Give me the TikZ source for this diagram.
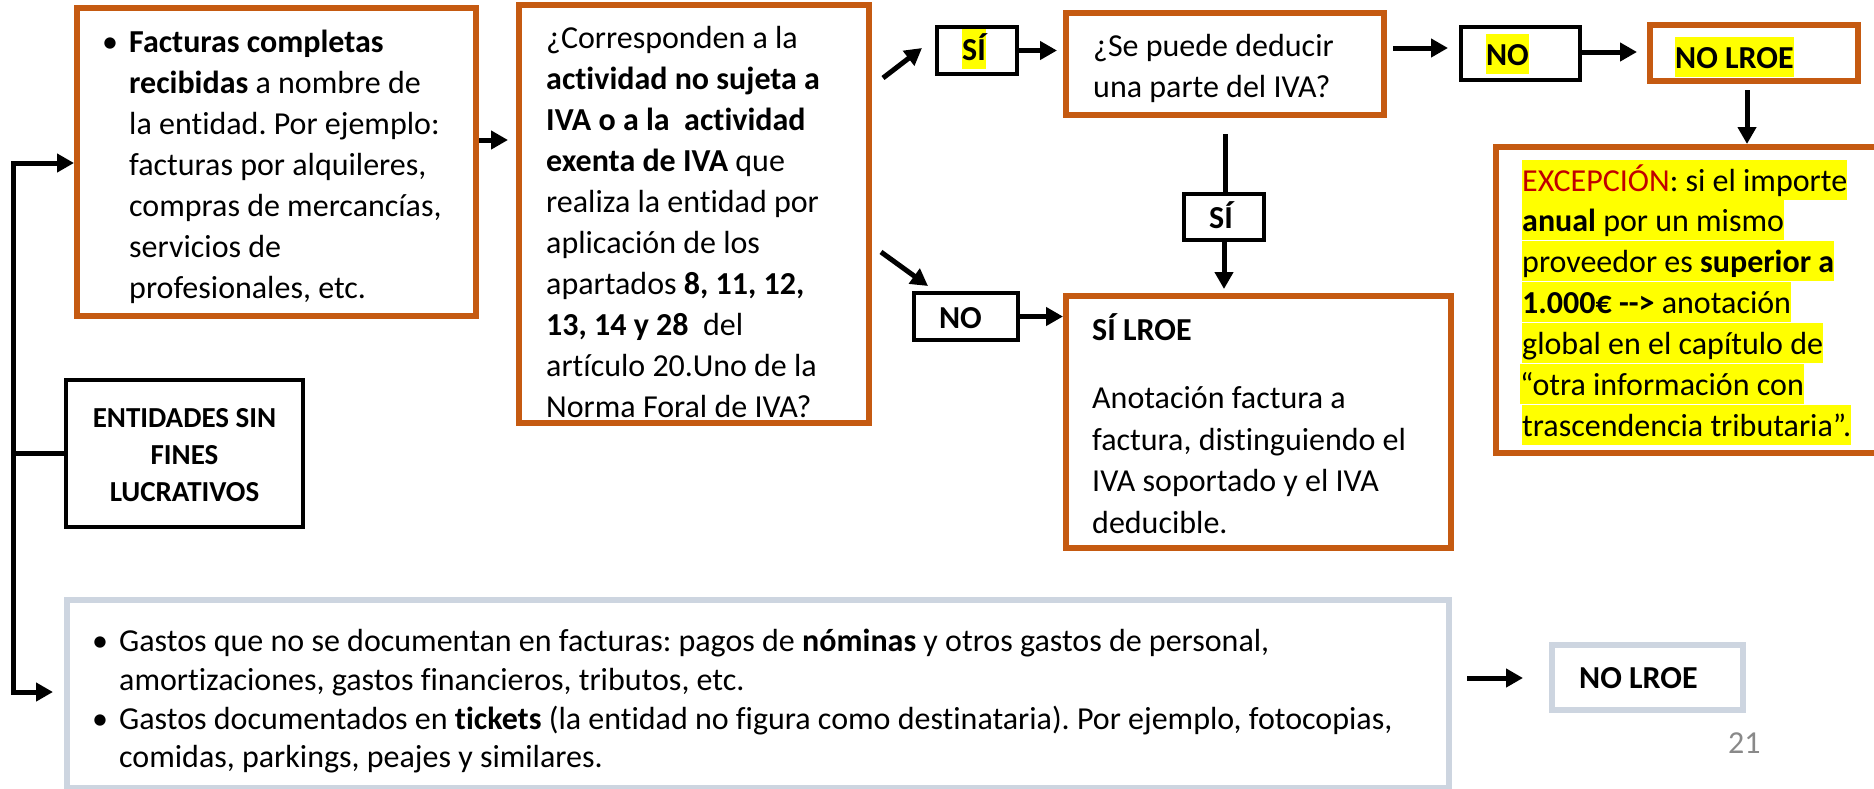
\documentclass[tikz,border=0pt]{standalone}
\usepackage{fontspec}
\setmainfont{Carlito}[Ligatures={NoCommon}]
\usetikzlibrary{arrows.meta,calc}
\definecolor{orng}{RGB}{197,90,17}
\definecolor{gblue}{RGB}{205,213,224}
\definecolor{exred}{RGB}{192,0,0}
\definecolor{pgray}{RGB}{137,137,137}
\definecolor{hly}{RGB}{255,255,0}
\tikzset{
 obox/.style={draw=orng, line width=6pt, inner sep=0pt},
 kbox/.style={draw=black, line width=4pt, inner sep=0pt},
 gbox/.style={draw=gblue, line width=6pt, inner sep=0pt},
 txt/.style={anchor=base west, inner sep=0pt, font=\fontsize{32}{41}\selectfont},
 ctxt/.style={anchor=base, inner sep=0pt, font=\fontsize{32}{41}\selectfont\bfseries},
 hl/.style={fill=hly, text height=31pt, text depth=9pt},
 arr/.style={line width=5pt, -{Triangle[length=17pt,width=18pt]}},
 bar/.style={line width=5pt},
}
\frenchspacing
\begin{document}
\begin{tikzpicture}[x=1pt,y=-1pt]
\useasboundingbox (0,0) rectangle (1874,788);
% boxes
\node[obox, minimum width=399pt, minimum height=308pt] (b1) at (276.5,162) {};
\node[obox, minimum width=350pt, minimum height=418pt] (b2) at (694,214) {};
\node[kbox, minimum width=80pt, minimum height=47pt] (siTop) at (977,50.5) {};
\node[kbox, minimum width=104pt, minimum height=47pt] (noMid) at (966,316.5) {};
\node[obox, minimum width=318pt, minimum height=102pt] (se) at (1225,64) {};
\node[kbox, minimum width=80pt, minimum height=46pt] (siMid) at (1224,217) {};
\node[obox, minimum width=385pt, minimum height=252pt] (sil) at (1258.5,422) {};
\node[kbox, minimum width=119pt, minimum height=53pt] (noTop) at (1520.5,53.5) {};
\node[obox, minimum width=208pt, minimum height=56pt] (nolTop) at (1754,53) {};
\node[obox, minimum width=394pt, minimum height=306pt] (exc) at (1693,300) {};
\node[kbox, minimum width=237pt, minimum height=147pt] (ent) at (184.5,453.5) {};
\node[gbox, minimum width=1382pt, minimum height=188pt] (gray) at (758,694) {};
\node[gbox, minimum width=191pt, minimum height=65pt] (nolBot) at (1647.5,677.5) {};

% helper coordinates
\coordinate (y140) at (0,140);
\coordinate (y48) at (0,48);
\coordinate (y52) at (0,52);
\coordinate (y678) at (0,678);
\coordinate (x1747) at (1747,0);
\coordinate (busTop) at (13,163);
\coordinate (busBot) at (13,692);
\coordinate (d1a) at (883,78);
\coordinate (d1b) at (922,48);
\coordinate (d2a) at (881,252);
\coordinate (d2b) at (928,286);

% connectors
\draw[arr, shorten >=8pt] (b1.east |- y140) -- (b2.west |- y140);
\draw[line width=5pt, line join=miter, {Triangle[length=17pt,width=18pt]}-{Triangle[length=17pt,width=18pt]}, shorten >=11pt]
  (busTop -| b1.west) -- (busTop) -- (busBot) -- (busBot -| gray.west);
\draw[bar] (ent.west) -- (ent.west -| busTop);
\draw[arr] (d1a) -- (d1b);
\draw[arr, shorten >=6pt] (siTop.east) -- (siTop.east -| se.west);
\draw[arr] (d2a) -- (d2b);
\draw[arr] (noMid.east) -- (noMid.east -| sil.west);
\draw[bar, shorten <=16pt] (se.south) -- (se.south |- siMid.north);
\draw[arr, shorten >=4pt] (siMid.south) -- (siMid.south |- sil.north);
\draw[arr, shorten <=6pt, shorten >=11pt] (se.east |- y48) -- (noTop.west |- y48);
\draw[arr, shorten >=10pt] (noTop.east |- y52) -- (nolTop.west |- y52);
\draw[arr, shorten <=6pt] (nolTop.south -| x1747) -- (exc.north -| x1747);
\draw[arr, shorten <=15pt, shorten >=26pt] (gray.east |- y678) -- (nolBot.west |- y678);

% box 1 text
\node[ctxt, font=\fontsize{32}{41}\selectfont] (bu1) at (110,52) {•};
\node[txt] (t1a) at (129,52) {\textbf{Facturas completas}};
\node[txt] (t1b) at (129,93) {\textbf{recibidas} a nombre de};
\node[txt] (t1c) at (129,134) {la entidad. Por ejemplo:};
\node[txt] (t1d) at (129,175) {facturas por alquileres,};
\node[txt] (t1e) at (129,216) {compras de mercancías,};
\node[txt] (t1f) at (129,257) {servicios de};
\node[txt] (t1g) at (129,298) {profesionales, etc.};

% box 2 text
\node[txt] (t2a) at (546,48) {¿Corresponden a la};
\node[txt] (t2b) at (546,89) {\textbf{actividad no sujeta a}};
\node[txt] (t2c) at (546,130) {\textbf{IVA o a la\ \ actividad}};
\node[txt] (t2d) at (546,171) {\textbf{exenta de IVA} que};
\node[txt] (t2e) at (546,212) {realiza la entidad por};
\node[txt] (t2f) at (546,253) {aplicación de los};
\node[txt] (t2g) at (546,294) {apartados \textbf{8, 11, 12,}};
\node[txt] (t2h) at (546,335) {\textbf{13, 14 y 28}\ \ del};
\node[txt] (t2i) at (546,376) {artículo 20.Uno de la};
\node[txt] (t2j) at (546,417) {Norma Foral de IVA?};

% small decision boxes
\node[ctxt, hl] (sT) at (974,60) {SÍ};
\node[ctxt] (nM) at (960.5,328) {NO};
\node[ctxt] (sM) at (1221,228) {SÍ};
\node[ctxt, hl] (nT) at (1507.5,65) {NO};
\node[txt, hl, font=\fontsize{32}{41}\selectfont\bfseries] (nlT) at (1675,68) {NO LROE};

% se box
\node[txt] (tsa) at (1093,56) {¿Se puede deducir};
\node[txt] (tsb) at (1093,97) {una parte del IVA?};

% si lroe
\node[txt] (tla) at (1092,340) {\textbf{SÍ LROE}};
\node[txt] (tlb) at (1092,408) {Anotación factura a};
\node[txt] (tlc) at (1092,450) {factura, distinguiendo el};
\node[txt] (tld) at (1092,491) {IVA soportado y el IVA};
\node[txt] (tle) at (1092,533) {deducible.};

% excepcion
\node[txt, hl] (ea) at (1522,191) {\textcolor{exred}{EXCEPCIÓN}: si el importe\hspace{7pt}};
\node[txt, hl] (eb) at (1522,231) {\textbf{anual} por un mismo\hspace{7pt}};
\node[txt, hl] (ec) at (1522,272) {proveedor es \textbf{superior a}\hspace{7pt}};
\node[txt, hl] (ed) at (1522,313) {\textbf{1.000€ -\kern0pt-\kern0pt>} anotación\hspace{7pt}};
\node[txt, hl] (ee) at (1522,354) {global en el capítulo de\hspace{7pt}};
\node[txt, hl] (ef) at (1520,395) {“otra información con\hspace{7pt}};
\node[txt, hl] (eg) at (1522,436) {trascendencia tributaria”.};

% entidades
\node[ctxt, font=\fontsize{29}{37}\selectfont\bfseries] (ena) at (184.5,427) {ENTIDADES SIN};
\node[ctxt, font=\fontsize{29}{37}\selectfont\bfseries] (enb) at (184.5,464) {FINES};
\node[ctxt, font=\fontsize{29}{37}\selectfont\bfseries] (enc) at (184.5,501) {LUCRATIVOS};

% bottom box
\node[ctxt, font=\fontsize{32}{41}\selectfont] (bu2) at (100,651) {•};
\node[txt] (ga) at (119,651) {Gastos que no se documentan en facturas: pagos de \textbf{nóminas} y otros gastos de personal,};
\node[txt] (gb) at (119,690) {amortizaciones, gastos financieros, tributos, etc.};
\node[ctxt, font=\fontsize{32}{41}\selectfont] (bu3) at (100,729) {•};
\node[txt] (gc) at (119,729) {Gastos documentados en \textbf{tickets} (la entidad no figura como destinataria). Por ejemplo, fotocopias,};
\node[txt] (gd) at (119,767) {comidas, parkings, peajes y similares.};

\node[txt, font=\fontsize{32}{41}\selectfont\bfseries] (nlB) at (1579,688) {NO LROE};
\node[txt, text=pgray] (pg) at (1728,753) {21};
\end{tikzpicture}
\end{document}
